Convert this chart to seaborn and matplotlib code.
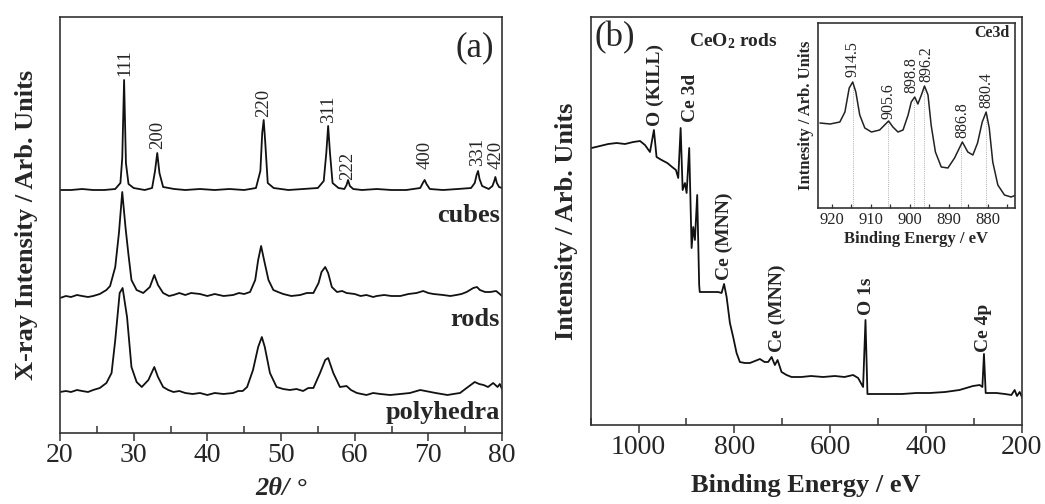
import numpy as np
import pandas as pd
import matplotlib
matplotlib.use("Agg")
import matplotlib.pyplot as plt
from matplotlib.ticker import MultipleLocator
import seaborn as sns

# ---------------- data: panel (a) XRD ----------------
cubes_x = [20, 21.5, 23, 24.5, 26, 27.5, 28.2, 28.45, 28.7, 28.95, 29.3, 30, 31.5, 32.5, 32.9, 33.2, 33.5, 34, 35.5,
           37, 39, 41, 43, 45, 46.6, 47.2, 47.45, 47.65, 47.85, 48.2, 49, 51, 53, 55, 55.8, 56.15, 56.4, 56.65,
           57.0, 57.8, 58.6, 58.9, 59.1, 59.35, 59.8, 61, 63, 65, 67, 68.9, 69.25, 69.5, 69.75, 70.2, 72, 74, 75.8,
           76.3, 76.55, 76.75, 76.95, 77.3, 78.2, 78.7, 78.95, 79.1, 79.3, 79.6, 80]
cubes_y = [243, 243, 244, 243, 243, 244, 250, 275, 353, 270, 249, 245, 243, 245, 262, 280, 260, 246, 244,
           243, 244, 243, 244, 243, 245, 262, 300, 313, 292, 250, 245, 243, 244, 245, 252, 280, 307, 280,
           250, 245, 244, 248, 253, 247, 244, 243, 244, 243, 243, 245, 250, 253, 249, 244, 243, 244, 245,
           250, 258, 262, 254, 247, 244, 247, 252, 256, 250, 246, 245]

rods_x = [20, 20.8, 21.5, 22.3, 23, 23.8, 24.5, 25.4, 26.3, 26.8, 27.5, 28.0, 28.45, 28.9, 29.3, 29.7, 30.4, 31.3,
          32.2, 32.8, 33.3, 34.0, 34.8, 35.4, 36.2, 37, 37.8, 39, 40, 41, 42.2, 43.5, 44.3, 45, 45.8, 46.5,
          46.9, 47.3, 47.7, 48.3, 48.96, 49.6, 50.3, 51.4, 52.6, 53.5, 54.4, 55.1, 55.5, 56.0, 56.4, 56.9, 57.6,
          58.3, 58.9, 60, 60.8, 61.6, 62.5, 63, 64, 65, 66.2, 67.3, 68.4, 69.3, 70.0, 70.7, 72, 73.0, 73.8,
          74.5, 75.2, 76.1, 76.6, 77.0, 77.7, 78.4, 79.2, 79.7, 80]
rods_y = [135, 137, 136, 138, 137, 136, 137, 139, 143, 147, 166, 200, 241, 205, 178, 153, 143, 140,
          146, 158, 148, 140, 137, 138, 140, 138, 140, 139, 137, 139, 137, 138, 140, 139, 141, 153,
          173, 187, 173, 153, 143, 141, 139, 137, 138, 140, 140, 150, 161, 166, 160, 146, 141,
          142, 140, 139, 137, 138, 136, 137, 138, 137, 137, 139, 140, 142, 140, 139, 138, 137, 138,
          139, 141, 145, 146, 143, 141, 141, 142, 139, 137]

poly_x = [20, 20.8, 21.5, 22.3, 23, 23.8, 24.5, 25.4, 26.3, 27.0, 27.5, 28.1, 28.5, 29.1, 29.7, 30.4, 31.1, 32.0,
          32.8, 33.3, 34.0, 34.7, 35.4, 36.2, 37, 38, 39, 40, 41, 42.2, 43.5, 44.2, 44.8, 45.4, 46.2, 46.9, 47.4,
          47.8, 48.5, 49.4, 50.3, 51.2, 52.1, 53, 53.7, 54.4, 55.3, 56.0, 56.4, 57.1, 58.0, 58.9, 59.5, 60.3,
          61.6, 62.5, 63.5, 64.8, 66.2, 67.5, 68.9, 69.6, 70.3, 71.0, 71.8, 72.6, 73.4, 74.3, 75.2, 76.3, 76.9,
          77.5, 78.1, 78.8, 79.4, 79.7, 80]
poly_y = [41, 42, 41, 43, 42, 41, 43, 45, 50, 60, 93, 140, 145, 116, 66, 51, 46, 53,
          66, 56, 46, 43, 41, 42, 40, 39, 40, 38, 40, 39, 40, 42, 42, 46, 63, 86, 96,
          86, 60, 46, 44, 43, 44, 42, 45, 45, 60, 73, 75, 60, 46, 47, 43, 40,
          38, 40, 39, 38, 39, 40, 43, 42, 41, 40, 39, 38, 39, 40, 45, 51, 49,
          48, 46, 50, 46, 49, 44]

hkl_labels = ["111", "200", "220", "311", "222", "400", "331", "420"]
hkl_x = [28.75, 33.2, 47.6, 56.4, 59.1, 69.5, 76.7, 79.15]
hkl_y = [357, 284, 316, 310, 253, 264, 267, 264]

sample_names = ["cubes", "rods", "polyhedra"]
sample_name_y = [218, 114, 20]

# ---------------- data: panel (b) XPS survey ----------------
survey_eV = [1098, 1080.6, 1063.3, 1045.8, 1028.4, 1011.1, 997, 986.7, 976.2, 968, 962.5, 952, 940, 930, 922,
             917.2, 912.2, 908, 903.2, 899.7, 894.3, 889.3, 885.9, 882.4, 877.6, 873.5, 872.3, 850, 833.8,
             826.7, 821.5, 816.2, 809.3, 802.5, 795.4, 788.5, 778, 767.6, 757, 746.7, 737, 729.4, 722.3,
             715.4, 709.8, 701.5, 691, 680.6, 660, 640, 614.7, 590, 570, 552.1, 541.6, 531.2, 526.2, 522.1,
             500, 475.5, 450, 420, 392, 360, 330, 301.7, 287.7, 282.1, 278.8, 275.2, 265, 252.9, 235, 221.6,
             214.7, 209.9, 204.2, 198.6]
survey_int = [277, 279, 281, 282, 281, 283, 284, 280, 273, 295, 268, 265, 262, 258, 255,
              247, 297, 235, 242, 232, 277, 177, 198, 185, 230, 140, 133, 133, 133,
              132, 141, 128, 102, 88, 72, 63, 62, 62, 64, 66, 63, 63, 68,
              60, 65, 53, 50, 48, 48, 49, 48, 49, 48, 50, 47, 38, 105, 31,
              31, 31, 31, 32, 32, 33, 35, 39, 40, 38, 71, 32, 32, 32, 31, 30,
              35, 29, 33, 27]

survey_lbl = ["O (KILL)", "Ce 3d", "Ce (MNN)", "Ce (MNN)", "O 1s", "Ce 4p"]
survey_lbl_x = [965, 891, 820, 710, 525, 279]
survey_lbl_y = [299, 303, 145, 73, 110, 73]

# ---------------- data: inset Ce3d ----------------
ce3d_eV = [923.0, 920.4, 917.9, 916.6, 915.5, 914.6, 913.8, 912.8, 911.5, 909.8, 907.7, 905.4, 904.3, 903.0,
           901.7, 900.4, 899.6, 898.7, 897.9, 897.0, 896.2, 895.3, 894.5, 893.4, 891.9, 890.2, 888.5, 886.5,
           885.1, 883.8, 882.6, 881.4, 880.4, 879.6, 878.7, 877.4, 875.7, 874.0, 872.7]
ce3d_int = [85, 84, 86, 96, 120, 126, 116, 93, 80, 76, 78, 87, 81, 76,
            78, 93, 106, 111, 104, 113, 122, 113, 83, 56, 41, 40, 50, 66,
            56, 53, 65, 86, 96, 80, 46, 23, 13, 11, 13]
ce3d_peaks = [914.5, 905.6, 898.8, 896.2, 886.8, 880.4]
ce3d_peak_int = [126, 87, 111, 122, 66, 96]
ce3d_lbl_x = [914.6, 905.4, 899.6, 895.7, 886.6, 880.3]
ce3d_lbl_y = [131, 89, 115, 126, 70, 100]

# ---------------- style ----------------
sns.set_theme(style="white")
SERIF = ["Liberation Serif", "DejaVu Serif"]
plt.rcParams["font.family"] = SERIF
plt.rcParams["mathtext.fontset"] = "custom"
plt.rcParams["mathtext.rm"] = "Liberation Serif"
plt.rcParams["mathtext.bf"] = "Liberation Serif:bold"
plt.rcParams["mathtext.it"] = "Liberation Serif:italic"
plt.rcParams["axes.edgecolor"] = "#333333"
plt.rcParams["axes.linewidth"] = 1.2

W, H = 1045, 504
fig = plt.figure(figsize=(W / 100, H / 100), dpi=100)

def box(l, t, r, b):
    return [l / W, (H - b) / H, (r - l) / W, (b - t) / H]

ax_a = fig.add_axes(box(60, 17, 502, 433))
ax_b = fig.add_axes(box(590.7, 17, 1021.7, 425))
ax_in = fig.add_axes(box(818, 23.3, 1015, 208))

LW = 1.3
K = "#111111"

# ---- panel (a)
for xs, ys in [(cubes_x, cubes_y), (rods_x, rods_y), (poly_x, poly_y)]:
    df = pd.DataFrame({"x": xs, "y": ys})
    sns.lineplot(data=df, x="x", y="y", ax=ax_a, color=K, lw=LW, estimator=None, sort=False)

ax_a.set_xlim(20, 80)
ax_a.set_ylim(0, 416)
ax_a.set_yticks([])
ax_a.xaxis.set_major_locator(MultipleLocator(10))
ax_a.xaxis.set_minor_locator(MultipleLocator(5))
ax_a.tick_params(axis="x", which="major", direction="out", length=6, width=1.1, color="#333333",
                 labelsize=20, pad=1, bottom=True)
ax_a.tick_params(axis="x", which="minor", direction="in", length=5, width=1.1, color="#333333", bottom=True)
ax_a.set_xlabel("2θ/ °", fontsize=19, fontweight="bold", style="italic", labelpad=7)
ax_a.set_ylabel("X-ray Intensity / Arb. Units", fontsize=19, fontweight="bold", labelpad=16)

for lbl, x, y in zip(hkl_labels, hkl_x, hkl_y):
    ax_a.text(x, y, lbl, rotation=90, ha="center", va="bottom", fontsize=13.5)
for name, y in zip(sample_names, sample_name_y):
    ax_a.text(79.7, y, name, ha="right", va="center", fontsize=19, fontweight="bold")
ax_a.text(76.3, 385, "(a)", ha="center", va="center", fontsize=25)

# ---- panel (b)
df_s = pd.DataFrame({"eV": survey_eV, "I": survey_int})
sns.lineplot(data=df_s, x="eV", y="I", ax=ax_b, color=K, lw=LW, estimator=None, sort=False)
ax_b.set_xlim(1100, 200)
ax_b.set_ylim(0, 408)
ax_b.set_yticks([])
ax_b.xaxis.set_major_locator(MultipleLocator(200))
ax_b.xaxis.set_minor_locator(MultipleLocator(100))
ax_b.tick_params(axis="x", which="major", direction="out", length=6, width=1.1, color="#333333",
                 labelsize=20, pad=1, bottom=True)
ax_b.tick_params(axis="x", which="minor", direction="in", length=5, width=1.1, color="#333333", bottom=True)
ax_b.set_xlabel("Binding Energy / eV", fontsize=19, fontweight="bold", labelpad=10)
ax_b.set_ylabel("Intensity / Arb. Units", fontsize=19, fontweight="bold", labelpad=9)
for lbl, x, y in zip(survey_lbl, survey_lbl_x, survey_lbl_y):
    ax_b.text(x, y, lbl, rotation=90, ha="center", va="bottom", fontsize=14, fontweight="bold")
ax_b.text(1049, 387, "(b)", ha="center", va="center", fontsize=25)
ax_b.text(803, 384, r"CeO$_{\mathbf{2}}$ rods", ha="center", va="center", fontsize=14, fontweight="bold")

# ---- inset
df_c = pd.DataFrame({"eV": ce3d_eV, "I": ce3d_int})
ax_in.vlines(ce3d_peaks, 0, ce3d_peak_int, colors="#b0b0b0", linestyles=(0, (1, 1.2)), lw=0.7)
sns.lineplot(data=df_c, x="eV", y="I", ax=ax_in, color="#222222", lw=1.1, estimator=None, sort=False)
ax_in.set_xlim(923.5, 873)
ax_in.set_ylim(0, 184.7)
ax_in.set_yticks([])
ax_in.xaxis.set_major_locator(MultipleLocator(10))
ax_in.xaxis.set_minor_locator(MultipleLocator(5))
ax_in.tick_params(axis="x", which="both", direction="in", length=3, width=0.9, color="#333333",
                  labelsize=12, pad=3, bottom=True)
ax_in.set_xlabel("Binding Energy / eV", fontsize=12, fontweight="bold", labelpad=2)
ax_in.set_ylabel("Intnesity / Arb. Units", fontsize=12, fontweight="bold", labelpad=3)
for lx, p, y in zip(ce3d_lbl_x, ce3d_peaks, ce3d_lbl_y):
    ax_in.text(lx, y, f"{p:.1f}", rotation=90, ha="center", va="bottom", fontsize=11.5)
ax_in.text(874.5, 175, "Ce3d", ha="right", va="center", fontsize=11.5, fontweight="bold")

for ax in (ax_a, ax_b, ax_in):
    for s in ax.spines.values():
        s.set_visible(True)
        s.set_color("#333333")

fig.savefig("out.png", dpi=100)
